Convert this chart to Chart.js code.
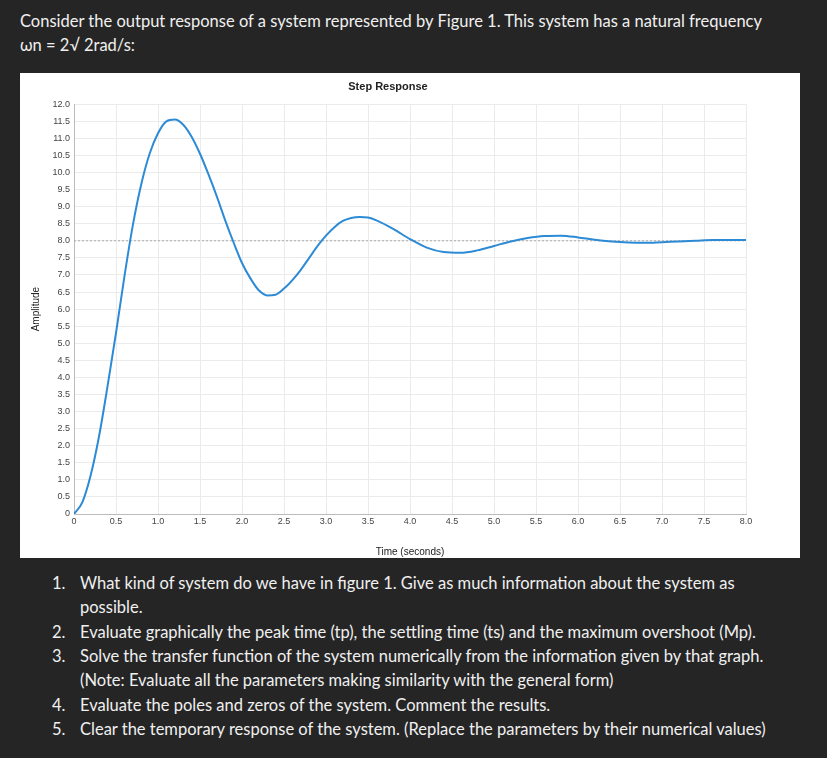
<!DOCTYPE html>
<html><head><meta charset="utf-8">
<script src="https://cdn.jsdelivr.net/npm/chart.js@4"></script>
<style>
body{margin:0;background:#252525;width:827px;height:758px;overflow:hidden;font-family:Lato,"Open Sans",sans-serif;color:#f0f0f0;font-size:16.5px}
.t{position:absolute;white-space:nowrap}
#box{position:absolute;left:20px;top:73px;width:780px;height:485px;background:#fff}
</style></head><body>
<div class="t" style="left:20px;top:11px">Consider the output response of a system represented by Figure 1. This system has a natural frequency</div>
<div class="t" style="left:20px;top:35px">ωn = 2√ 2rad/s:</div>
<div id="box"><canvas id="c" width="780" height="485"></canvas></div>
<div class="t" style="left:52px;top:573px">1.</div><div class="t" style="left:80px;top:573px">What kind of system do we have in figure 1. Give as much information about the system as</div>
<div class="t" style="left:80px;top:597px">possible.</div>
<div class="t" style="left:52px;top:622px">2.</div><div class="t" style="left:80px;top:622px">Evaluate graphically the peak time (tp), the settling time (ts) and the maximum overshoot (Mp).</div>
<div class="t" style="left:52px;top:646px">3.</div><div class="t" style="left:80px;top:646px">Solve the transfer function of the system numerically from the information given by that graph.</div>
<div class="t" style="left:80px;top:670px">(Note: Evaluate all the parameters making similarity with the general form)</div>
<div class="t" style="left:52px;top:695px">4.</div><div class="t" style="left:80px;top:695px">Evaluate the poles and zeros of the system. Comment the results.</div>
<div class="t" style="left:52px;top:719px">5.</div><div class="t" style="left:80px;top:719px">Clear the temporary response of the system. (Replace the parameters by their numerical values)</div>
<script>
const times = [0,0.1,0.2,0.3,0.4,0.5,0.6,0.7,0.8,0.9,1.0,1.1,1.2,1.3,1.4,1.5,1.6,1.7,1.8,1.9,2.0,2.1,2.2,2.3,2.4,2.5,2.6,2.7,2.8,2.9,3.0,3.1,3.2,3.3,3.4,3.5,3.6,3.8,4.0,4.2,4.4,4.6,4.8,5.0,5.2,5.4,5.6,5.8,6.0,6.2,6.4,6.6,6.8,7.0,7.2,7.4,7.6,7.8,8.0];
const amplitude = [0,0.35,1.15,2.3,3.75,5.3,6.95,8.45,9.65,10.55,11.15,11.5,11.55,11.4,11.05,10.55,9.95,9.3,8.6,7.95,7.35,6.9,6.55,6.4,6.42,6.6,6.85,7.15,7.5,7.85,8.15,8.4,8.58,8.67,8.7,8.68,8.6,8.35,8.05,7.8,7.67,7.65,7.72,7.85,7.98,8.08,8.14,8.15,8.1,8.03,7.98,7.95,7.94,7.96,7.98,8.0,8.02,8.02,8.02];
const finalValue = 8;
const font = {family:'"Liberation Sans",Arial,sans-serif', size:9};
new Chart(document.getElementById('c'), {
  type:'line',
  data:{datasets:[
    {data:times.map((t,i)=>({x:t,y:amplitude[i]})),borderColor:'#2d8bd6',borderWidth:2,pointRadius:0,tension:0.4,cubicInterpolationMode:'monotone'},
    {data:[{x:0,y:finalValue},{x:8,y:finalValue}],borderColor:'#aaa',borderWidth:1,borderDash:[2,2],pointRadius:0}
  ]},
  options:{
    responsive:false,animation:false,
    layout:{padding:{left:10,right:54,top:0,bottom:0}},
    plugins:{legend:{display:false},
      title:{display:true,text:'Step Response',color:'#222',font:{family:font.family,size:11,weight:'bold'},padding:{top:7,bottom:11}}},
    scales:{
      x:{type:'linear',min:0,max:8,ticks:{stepSize:0.5,color:'#444',font,maxRotation:0,padding:2},
         grid:{color:'#ebebeb',tickLength:0},border:{color:'#bbb'},
         title:{display:true,text:'Time (seconds)',color:'#222',font:{family:font.family,size:10},padding:0},
         afterFit:s=>{s.height=44;}},
      y:{min:0,max:12,ticks:{stepSize:0.5,color:'#444',font,padding:4,autoSkip:false},
         grid:{color:'#ebebeb',tickLength:0},border:{color:'#bbb'},
         title:{display:true,text:'Amplitude',color:'#222',font:{family:font.family,size:10},padding:0},
         afterFit:s=>{s.width=44;}}
    }
  }
});
</script>
</body></html>
